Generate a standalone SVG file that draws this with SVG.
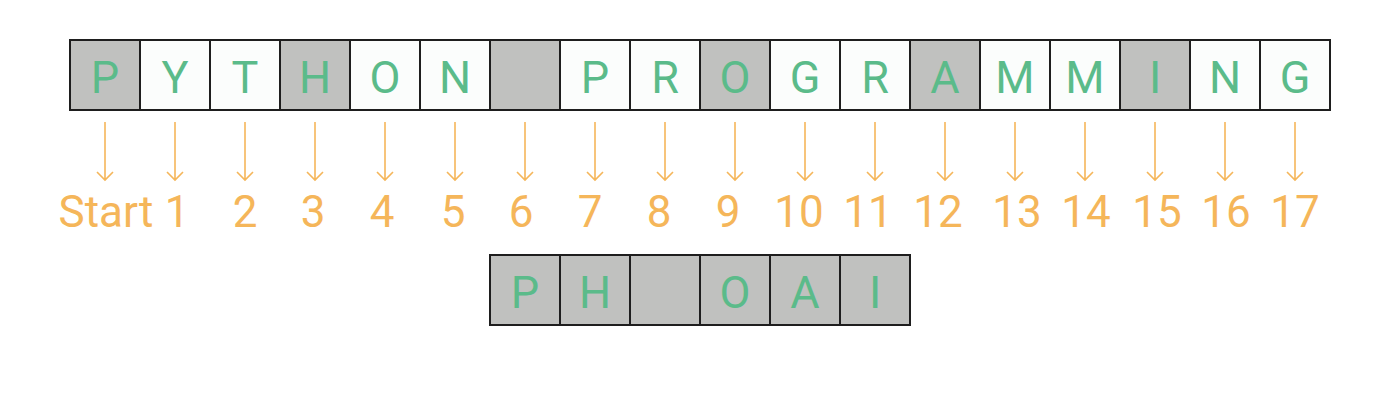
<svg xmlns="http://www.w3.org/2000/svg" width="1400" height="420" viewBox="0 0 1400 420">
<style>
.w{fill:#fbfdfc;stroke:#1e1e1e;stroke-width:2}
.g{fill:#c0c1bf;stroke:#1e1e1e;stroke-width:2}
.l{font-family:Roboto,"Liberation Sans",sans-serif;font-size:45px;fill:#5bbb8a;text-anchor:middle}
.n{font-family:Roboto,"Liberation Sans",sans-serif;font-size:44px;fill:#f5b65a;text-anchor:middle}
.a{stroke:#f5b65a;stroke-width:1.6;fill:none}
</style>
<defs>
<g id="arr"><path class="a" d="M0,0V58M-8,50L0,58L8,50"/></g>
</defs>
<rect width="1400" height="420" fill="#fff"/>
<g id="top">
<g id="c0"><rect class="g" x="70" y="40" width="70" height="70"/><text class="l" x="105" y="93">P</text></g>
<g id="c1"><rect class="w" x="140" y="40" width="70" height="70"/><text class="l" x="175" y="93">Y</text></g>
<g id="c2"><rect class="w" x="210" y="40" width="70" height="70"/><text class="l" x="245" y="93">T</text></g>
<g id="c3"><rect class="g" x="280" y="40" width="70" height="70"/><text class="l" x="315" y="93">H</text></g>
<g id="c4"><rect class="w" x="350" y="40" width="70" height="70"/><text class="l" x="385" y="93">O</text></g>
<g id="c5"><rect class="w" x="420" y="40" width="70" height="70"/><text class="l" x="455" y="93">N</text></g>
<g id="c6"><rect class="g" x="490" y="40" width="70" height="70"/></g>
<g id="c7"><rect class="w" x="560" y="40" width="70" height="70"/><text class="l" x="595" y="93">P</text></g>
<g id="c8"><rect class="w" x="630" y="40" width="70" height="70"/><text class="l" x="665" y="93">R</text></g>
<g id="c9"><rect class="g" x="700" y="40" width="70" height="70"/><text class="l" x="735" y="93">O</text></g>
<g id="c10"><rect class="w" x="770" y="40" width="70" height="70"/><text class="l" x="805" y="93">G</text></g>
<g id="c11"><rect class="w" x="840" y="40" width="70" height="70"/><text class="l" x="875" y="93">R</text></g>
<g id="c12"><rect class="g" x="910" y="40" width="70" height="70"/><text class="l" x="945" y="93">A</text></g>
<g id="c13"><rect class="w" x="980" y="40" width="70" height="70"/><text class="l" x="1015" y="93">M</text></g>
<g id="c14"><rect class="w" x="1050" y="40" width="70" height="70"/><text class="l" x="1085" y="93">M</text></g>
<g id="c15"><rect class="g" x="1120" y="40" width="70" height="70"/><text class="l" x="1155" y="93">I</text></g>
<g id="c16"><rect class="w" x="1190" y="40" width="70" height="70"/><text class="l" x="1225" y="93">N</text></g>
<g id="c17"><rect class="w" x="1260" y="40" width="70" height="70"/><text class="l" x="1295" y="93">G</text></g>
</g>
<g id="connectors">
<use href="#arr" x="105" y="122"/><use href="#arr" x="175" y="122"/><use href="#arr" x="245" y="122"/>
<use href="#arr" x="315" y="122"/><use href="#arr" x="385" y="122"/><use href="#arr" x="455" y="122"/>
<use href="#arr" x="525" y="122"/><use href="#arr" x="595" y="122"/><use href="#arr" x="665" y="122"/>
<use href="#arr" x="735" y="122"/><use href="#arr" x="805" y="122"/><use href="#arr" x="875" y="122"/>
<use href="#arr" x="945" y="122"/><use href="#arr" x="1015" y="122"/><use href="#arr" x="1085" y="122"/>
<use href="#arr" x="1155" y="122"/><use href="#arr" x="1225" y="122"/><use href="#arr" x="1295" y="122"/>
</g>
<g id="numbers">
<text class="n" x="106" y="227">Start</text><text class="n" x="177" y="227">1</text><text class="n" x="245" y="227">2</text>
<text class="n" x="313" y="227">3</text><text class="n" x="382" y="227">4</text><text class="n" x="453" y="227">5</text>
<text class="n" x="521" y="227">6</text><text class="n" x="590" y="227">7</text><text class="n" x="659" y="227">8</text>
<text class="n" x="728" y="227">9</text><text class="n" x="799" y="227">10</text><text class="n" x="868" y="227">11</text>
<text class="n" x="938" y="227">12</text><text class="n" x="1017" y="227">13</text><text class="n" x="1086" y="227">14</text>
<text class="n" x="1157" y="227">15</text><text class="n" x="1226" y="227">16</text><text class="n" x="1295" y="227">17</text>
</g>
<g id="bottom">
<g id="b0"><rect class="g" x="490" y="255" width="70" height="70"/><text class="l" x="525" y="308">P</text></g>
<g id="b1"><rect class="g" x="560" y="255" width="70" height="70"/><text class="l" x="595" y="308">H</text></g>
<g id="b2"><rect class="g" x="630" y="255" width="70" height="70"/></g>
<g id="b3"><rect class="g" x="700" y="255" width="70" height="70"/><text class="l" x="735" y="308">O</text></g>
<g id="b4"><rect class="g" x="770" y="255" width="70" height="70"/><text class="l" x="805" y="308">A</text></g>
<g id="b5"><rect class="g" x="840" y="255" width="70" height="70"/><text class="l" x="875" y="308">I</text></g>
</g>
</svg>
